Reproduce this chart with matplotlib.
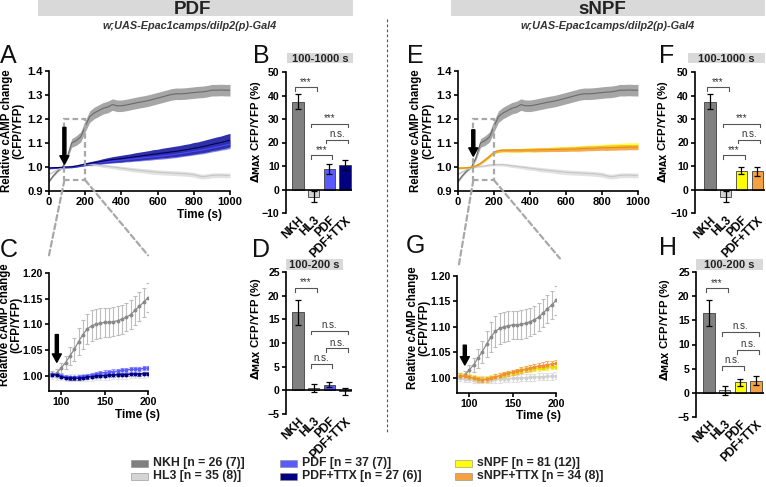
import numpy as np
import matplotlib
matplotlib.use("Agg")
import matplotlib.pyplot as plt
from matplotlib.patches import Rectangle, ConnectionPatch
from matplotlib.lines import Line2D

plt.rcParams["font.family"] = ["Liberation Sans", "DejaVu Sans"]
plt.rcParams["font.weight"] = "bold"
plt.rcParams["axes.linewidth"] = 1.2

W, H = 766, 487

# ---- long recordings (0-1000 s) ----
T_LONG = np.arange(0, 1001, 25)
NKH_LONG = [0.940, 0.965, 0.985, 1.000, 1.040, 1.100, 1.110, 1.125, 1.170, 1.210,
            1.225, 1.235, 1.245, 1.250, 1.260, 1.255, 1.255, 1.258, 1.262, 1.266,
            1.270, 1.273, 1.277, 1.282, 1.287, 1.292, 1.297, 1.302, 1.305, 1.305,
            1.306, 1.308, 1.310, 1.312, 1.313, 1.316, 1.320, 1.320, 1.321, 1.320, 1.320]
NKH_LONG_SEM = [0.004, 0.004, 0.004, 0.005, 0.010, 0.018, 0.020, 0.021, 0.023, 0.024,
                0.024, 0.024, 0.024, 0.024, 0.024, 0.024, 0.024, 0.024, 0.024, 0.024,
                0.024, 0.024, 0.024, 0.024, 0.024, 0.024, 0.024, 0.024, 0.024, 0.024,
                0.024, 0.024, 0.024, 0.024, 0.024, 0.024, 0.024, 0.024, 0.024, 0.024, 0.024]
HL3_LONG = [0.970, 0.980, 0.990, 0.997, 1.000, 1.003, 1.005, 1.008, 1.010, 1.010,
            1.010, 1.008, 1.005, 1.003, 1.000, 0.998, 0.995, 0.993, 0.990, 0.988,
            0.986, 0.984, 0.982, 0.980, 0.978, 0.977, 0.976, 0.975, 0.974, 0.973,
            0.972, 0.970, 0.968, 0.963, 0.960, 0.962, 0.965, 0.966, 0.966, 0.965, 0.965]
HL3_LONG_SEM = [0.003, 0.003, 0.003, 0.003, 0.003, 0.004, 0.004, 0.005, 0.005, 0.006,
                0.006, 0.006, 0.007, 0.007, 0.007, 0.008, 0.008, 0.008, 0.009, 0.009,
                0.009, 0.009, 0.010, 0.010, 0.010, 0.010, 0.010, 0.010, 0.010, 0.010,
                0.010, 0.010, 0.010, 0.010, 0.010, 0.010, 0.010, 0.010, 0.010, 0.010, 0.010]
PDF_LONG = [0.995, 0.996, 0.997, 0.998, 0.999, 1.000, 1.003, 1.006, 1.010, 1.013,
            1.016, 1.018, 1.020, 1.022, 1.024, 1.026, 1.028, 1.030, 1.032, 1.034,
            1.036, 1.038, 1.040, 1.042, 1.044, 1.046, 1.048, 1.050, 1.053, 1.056,
            1.059, 1.062, 1.065, 1.068, 1.071, 1.075, 1.079, 1.083, 1.087, 1.091, 1.095]
PDF_LONG_SEM = [0.003, 0.003, 0.003, 0.003, 0.003, 0.003, 0.004, 0.004, 0.005, 0.005,
                0.006, 0.006, 0.007, 0.007, 0.008, 0.008, 0.009, 0.009, 0.010, 0.010,
                0.011, 0.011, 0.012, 0.012, 0.012, 0.013, 0.013, 0.013, 0.014, 0.014,
                0.014, 0.015, 0.015, 0.015, 0.016, 0.016, 0.016, 0.017, 0.017, 0.018, 0.018]
PDFTTX_LONG = [0.996, 0.997, 0.998, 0.999, 1.000, 1.001, 1.004, 1.008, 1.012, 1.015,
               1.018, 1.021, 1.025, 1.028, 1.031, 1.033, 1.035, 1.038, 1.040, 1.043,
               1.045, 1.048, 1.050, 1.053, 1.055, 1.058, 1.060, 1.063, 1.065, 1.068,
               1.071, 1.074, 1.078, 1.081, 1.085, 1.089, 1.094, 1.098, 1.102, 1.107, 1.112]
PDFTTX_LONG_SEM = [0.003, 0.003, 0.003, 0.003, 0.003, 0.004, 0.004, 0.005, 0.006, 0.007,
                   0.008, 0.009, 0.010, 0.011, 0.012, 0.013, 0.014, 0.014, 0.015, 0.016,
                   0.017, 0.017, 0.018, 0.019, 0.019, 0.020, 0.021, 0.021, 0.022, 0.022,
                   0.023, 0.023, 0.024, 0.024, 0.025, 0.026, 0.026, 0.027, 0.027, 0.028, 0.028]
SNPF_LONG = [0.996, 0.997, 0.998, 1.000, 1.006, 1.016, 1.030, 1.045, 1.060, 1.067,
             1.069, 1.069, 1.069, 1.070, 1.070, 1.071, 1.071, 1.072, 1.072, 1.073,
             1.073, 1.074, 1.075, 1.075, 1.076, 1.077, 1.077, 1.078, 1.079, 1.080,
             1.081, 1.082, 1.083, 1.084, 1.085, 1.086, 1.087, 1.088, 1.089, 1.089, 1.090]
SNPF_LONG_SEM = [0.003, 0.003, 0.003, 0.003, 0.004, 0.005, 0.006, 0.006, 0.007, 0.007,
                 0.007, 0.007, 0.008, 0.008, 0.008, 0.008, 0.009, 0.009, 0.009, 0.009,
                 0.009, 0.010, 0.010, 0.010, 0.010, 0.010, 0.011, 0.011, 0.011, 0.011,
                 0.011, 0.011, 0.012, 0.012, 0.012, 0.012, 0.012, 0.012, 0.012, 0.012, 0.012]
SNPFTTX_LONG = [0.995, 0.996, 0.997, 0.999, 1.005, 1.015, 1.030, 1.045, 1.062, 1.068,
                1.070, 1.070, 1.070, 1.070, 1.070, 1.071, 1.071, 1.071, 1.072, 1.072,
                1.072, 1.073, 1.073, 1.074, 1.074, 1.075, 1.075, 1.076, 1.077, 1.078,
                1.078, 1.079, 1.080, 1.080, 1.081, 1.081, 1.082, 1.082, 1.083, 1.083, 1.083]
SNPFTTX_LONG_SEM = [0.003, 0.003, 0.003, 0.003, 0.004, 0.004, 0.005, 0.005, 0.006, 0.006,
                    0.006, 0.006, 0.007, 0.007, 0.007, 0.007, 0.007, 0.008, 0.008, 0.008,
                    0.008, 0.008, 0.009, 0.009, 0.009, 0.009, 0.009, 0.010, 0.010, 0.010,
                    0.010, 0.010, 0.010, 0.011, 0.011, 0.011, 0.011, 0.011, 0.011, 0.011, 0.011]

# ---- zoomed recordings (90-200 s) ----
T_ZOOM = np.arange(90, 201, 5)
NKH_Z = [1.003, 1.005, 1.015, 1.025, 1.038, 1.051, 1.066, 1.080, 1.091, 1.097, 1.100, 1.102,
         1.104, 1.104, 1.105, 1.107, 1.110, 1.114, 1.119, 1.127, 1.135, 1.143, 1.152]
NKH_Z_SEM = [0.006, 0.008, 0.010, 0.013, 0.018, 0.022, 0.026, 0.029, 0.030, 0.030, 0.029, 0.029,
             0.028, 0.028, 0.028, 0.028, 0.028, 0.028, 0.028, 0.028, 0.028, 0.028, 0.028]
HL3_Z = [0.999, 0.998, 0.997, 0.996, 0.996, 0.996, 0.996, 0.996, 0.997, 0.997, 0.998, 0.998,
         0.999, 0.999, 1.000, 1.000, 1.001, 1.001, 1.002, 1.002, 1.003, 1.003, 1.004]
HL3_Z_SEM = [0.006, 0.006, 0.006, 0.006, 0.007, 0.007, 0.007, 0.007, 0.007, 0.007, 0.007, 0.007,
             0.007, 0.007, 0.007, 0.007, 0.007, 0.007, 0.007, 0.007, 0.007, 0.007, 0.007]
PDF_Z = [1.003, 1.002, 1.000, 0.998, 0.997, 0.997, 0.998, 0.999, 1.000, 1.002, 1.003, 1.005,
         1.006, 1.007, 1.008, 1.009, 1.010, 1.011, 1.012, 1.012, 1.013, 1.014, 1.015]
PDF_Z_SEM = [0.003, 0.003, 0.003, 0.003, 0.003, 0.003, 0.003, 0.003, 0.003, 0.004, 0.004, 0.004,
             0.004, 0.004, 0.004, 0.004, 0.004, 0.004, 0.004, 0.004, 0.004, 0.004, 0.004]
PDFTTX_Z = [1.002, 1.001, 0.998, 0.996, 0.995, 0.995, 0.995, 0.996, 0.997, 0.998, 0.999, 1.000,
            1.000, 1.001, 1.001, 1.002, 1.002, 1.002, 1.003, 1.003, 1.003, 1.004, 1.004]
PDFTTX_Z_SEM = [0.003, 0.003, 0.003, 0.003, 0.003, 0.003, 0.003, 0.003, 0.003, 0.003, 0.003, 0.003,
                0.003, 0.003, 0.003, 0.003, 0.003, 0.003, 0.003, 0.003, 0.003, 0.003, 0.003]
SNPF_Z = [1.005, 1.004, 1.002, 1.000, 0.998, 0.997, 0.998, 1.000, 1.002, 1.004, 1.006, 1.008,
          1.010, 1.012, 1.014, 1.016, 1.017, 1.018, 1.019, 1.020, 1.021, 1.022, 1.022]
SNPF_Z_SEM = [0.005, 0.005, 0.005, 0.005, 0.005, 0.005, 0.005, 0.005, 0.005, 0.005, 0.005, 0.005,
              0.005, 0.005, 0.005, 0.005, 0.005, 0.005, 0.005, 0.005, 0.005, 0.005, 0.005]
SNPFTTX_Z = [1.004, 1.003, 1.001, 0.999, 0.997, 0.996, 0.997, 0.999, 1.002, 1.004, 1.007, 1.009,
             1.011, 1.013, 1.015, 1.017, 1.019, 1.021, 1.023, 1.024, 1.026, 1.027, 1.028]
SNPFTTX_Z_SEM = [0.005, 0.005, 0.005, 0.005, 0.005, 0.005, 0.005, 0.005, 0.005, 0.005, 0.005, 0.005,
                 0.005, 0.005, 0.006, 0.006, 0.006, 0.006, 0.006, 0.006, 0.006, 0.006, 0.006]

# ---- bar charts ----
BAR_LABELS = ["NKH", "HL3", "PDF", "PDF+TTX"]
B_MEAN = [37.4, -3.0, 8.8, 10.4]
B_SEM = [3.2, 2.5, 2.0, 2.1]
D_MEAN = [16.5, 0.5, 1.2, -0.2]
D_SEM = [2.6, 0.9, 0.6, 0.7]
F_MEAN = [37.4, -3.0, 8.0, 7.8]
F_SEM = [3.2, 2.5, 1.5, 1.9]
H_MEAN = [16.5, 0.5, 2.2, 2.5]
H_SEM = [2.7, 0.9, 0.7, 0.9]
SIG_LONG = [(0, 1, 43.5, "***"), (1, 3, 28.0, "***"), (2, 3, 21.2, "n.s."), (1, 2, 14.5, "***")]
SIG_SHORT = [(0, 1, 21.6, "***"), (1, 3, 12.6, "n.s."), (2, 3, 8.9, "n.s."), (1, 2, 5.6, "n.s.")]

LEGEND_LABELS = ["NKH [n = 26 (7)]", "HL3 [n = 35 (8)]", "PDF [n = 37 (7)]",
                 "PDF+TTX [n = 27 (6)]", "sNPF [n = 81 (12)]", "sNPF+TTX [n = 34 (8)]"]

C_NKH, C_HL3 = "#808080", "#d4d4d4"
C_PDF, C_PDFTTX = "#5a5aff", "#000080"
C_SNPF, C_SNPFTTX = "#ffff00", "#f5a142"
LEGEND_COLORS = [C_NKH, C_HL3, C_PDF, C_PDFTTX, C_SNPF, C_SNPFTTX]

fig = plt.figure(figsize=(W / 100, H / 100), dpi=100)


def add_ax(left, top, right, bottom):
    return fig.add_axes([left / W, 1 - bottom / H, (right - left) / W, (bottom - top) / H])


def style(ax, size=8):
    ax.spines["top"].set_visible(False)
    ax.spines["right"].set_visible(False)
    ax.tick_params(direction="out", length=3, width=1.2, labelsize=size, pad=1.5)


def trace_long(ax, series, show_xlabel, arrow_y):
    for m, s, band, line in series:
        m = np.asarray(m)
        s = np.asarray(s)
        ax.fill_between(T_LONG, m - s, m + s, color=band, lw=0)
        ax.plot(T_LONG, m, color=line, lw=0.8)
    ax.set_xlim(0, 1000)
    ax.set_ylim(0.9, 1.4)
    ax.set_xticks([0, 200, 400, 600, 800, 1000])
    ax.set_yticks([0.9, 1.0, 1.1, 1.2, 1.3, 1.4])
    ax.set_yticklabels(["0.9", "1.0", "1.1", "1.2", "1.3", "1.4"])
    style(ax)
    ax.add_patch(Rectangle((85, 0.945), 115, 0.255, fill=False, ec="#a8a8a8",
                           lw=1.6, ls=(0, (2.5, 1.5)), clip_on=False, zorder=5))
    ax.annotate("", xy=(85, arrow_y[1]), xytext=(85, arrow_y[0]),
                arrowprops=dict(facecolor="k", edgecolor="k", width=2.2,
                                headwidth=6.5, headlength=6, shrink=0), zorder=6)
    ax.text(-0.2, 0.5, "Relative cAMP change\n(CFP/YFP)", transform=ax.transAxes,
            rotation=90, ha="center", va="center", fontsize=8.3, linespacing=1.0)
    if show_xlabel:
        ax.text(0.83, -0.2, "Time (s)", transform=ax.transAxes, ha="center",
                va="center", fontsize=8.5)


def trace_zoom(ax, series, xlab_x, arrow_y):
    for m, s, line, ecol in series:
        ax.errorbar(T_ZOOM, m, yerr=s, color=line, ecolor=ecol, marker="o", ms=1.8,
                    lw=0.9, elinewidth=0.8, capsize=1.6, capthick=0.8)
    ax.set_xlim(86, 200)
    ax.set_ylim(0.97, 1.20)
    ax.set_xticks([100, 150, 200])
    ax.set_yticks([1.00, 1.05, 1.10, 1.15, 1.20])
    ax.set_yticklabels(["1.00", "1.05", "1.10", "1.15", "1.20"])
    style(ax, 7.6)
    ax.annotate("", xy=(95, arrow_y[1]), xytext=(95, arrow_y[0]),
                arrowprops=dict(facecolor="k", edgecolor="k", width=2.2,
                                headwidth=6.5, headlength=6, shrink=0), zorder=6)
    ax.text(-0.39, 0.56, "Relative cAMP change\n(CFP/YFP)", transform=ax.transAxes,
            rotation=90, ha="center", va="center", fontsize=8.3, linespacing=0.95)
    ax.text(xlab_x, -0.2, "Time (s)", transform=ax.transAxes, ha="center",
            va="center", fontsize=8.5)


def bar_panel(ax, means, sems, colors, sig, ylim, yticks, drop, xlim, ylab_y):
    x = np.arange(len(means))
    ax.bar(x, means, width=0.72, color=colors, edgecolor="#404040", lw=0.6, zorder=2)
    ax.errorbar(x, means, yerr=sems, fmt="none", ecolor="k", elinewidth=0.9,
                capsize=2.5, capthick=0.9, zorder=3)
    ax.axhline(0, color="k", lw=1.2, zorder=4)
    ax.set_xlim(*xlim)
    ax.set_ylim(*ylim)
    ax.set_yticks(yticks)
    style(ax, 7.6)
    ax.spines["bottom"].set_visible(False)
    ax.set_xticks(x)
    ax.set_xticklabels(BAR_LABELS, rotation=45, ha="right", rotation_mode="anchor",
                       fontsize=8.5)
    ax.tick_params(axis="x", length=0, pad=1)
    for i, j, y, txt in sig:
        ax.plot([i - 0.2, i - 0.2, j + 0.2, j + 0.2], [y - drop, y, y, y - drop],
                color="#555555", lw=0.8, clip_on=False)
        ax.text((i + j) / 2, y + drop * 0.15, txt, ha="center", va="bottom",
                fontsize=7, fontweight="normal", color="#333333")
    ax.text(-0.45, ylab_y, r"$\Delta_{\mathrm{MAX}}$ CFP/YFP (%)", transform=ax.transAxes,
            rotation=90, ha="center", va="center", fontsize=8.2)


# ---- panels ----
axA = add_ax(49, 71, 230, 191)
trace_long(axA, [(NKH_LONG, NKH_LONG_SEM, "#a6a6a6", "#6a6a6a"),
                 (HL3_LONG, HL3_LONG_SEM, "#e2e2e2", "#c6c6c6"),
                 (PDF_LONG, PDF_LONG_SEM, "#8080f8", "#4a4aff"),
                 (PDFTTX_LONG, PDFTTX_LONG_SEM, "#3030a8", "#00005a")],
           True, (1.165, 1.012))

axE = add_ax(458, 71, 638, 191)
trace_long(axE, [(NKH_LONG, NKH_LONG_SEM, "#a6a6a6", "#6a6a6a"),
                 (HL3_LONG, HL3_LONG_SEM, "#e2e2e2", "#c6c6c6"),
                 (SNPF_LONG, SNPF_LONG_SEM, "#ffff50", "#e8d800"),
                 (SNPFTTX_LONG, SNPFTTX_LONG_SEM, "#f6aa50", "#e88a20")],
           False, (1.155, 1.045))

axC = add_ax(49, 273, 148, 391)
trace_zoom(axC, [(HL3_Z, HL3_Z_SEM, "#d8d8d8", "#e4e4e4"),
                 (NKH_Z, NKH_Z_SEM, "#8a8a8a", "#bdbdbd"),
                 (PDF_Z, PDF_Z_SEM, "#5a5aff", "#9a9aff"),
                 (PDFTTX_Z, PDFTTX_Z_SEM, "#000080", "#3a3a9a")],
           0.89, (1.08, 1.026))

axG = add_ax(457, 276, 556, 393)
trace_zoom(axG, [(HL3_Z, HL3_Z_SEM, "#d0d0d0", "#dedede"),
                 (NKH_Z, NKH_Z_SEM, "#8a8a8a", "#bdbdbd"),
                 (SNPF_Z, SNPF_Z_SEM, "#e8e000", "#f4f060"),
                 (SNPFTTX_Z, SNPFTTX_Z_SEM, "#f09030", "#f5b060")],
           0.82, (1.064, 1.025))

axB = add_ax(286, 72, 352, 213)
bar_panel(axB, B_MEAN, B_SEM, [C_NKH, C_HL3, C_PDF, C_PDFTTX], SIG_LONG,
          (-10, 50), [-10, 0, 10, 20, 30, 40, 50], 1.6, (-0.77, 3.45), 0.575)
axD = add_ax(286, 272, 352, 414)
bar_panel(axD, D_MEAN, D_SEM, [C_NKH, C_HL3, C_PDF, C_PDFTTX], SIG_SHORT,
          (-5, 25), [-5, 0, 5, 10, 15, 20, 25], 0.8, (-0.77, 3.45), 0.6)
axF = add_ax(695, 72, 765, 213)
bar_panel(axF, F_MEAN, F_SEM, [C_NKH, C_HL3, C_SNPF, C_SNPFTTX], SIG_LONG,
          (-10, 50), [-10, 0, 10, 20, 30, 40, 50], 1.6, (-0.96, 3.5), 0.575)
axH = add_ax(696, 272, 764, 417)
bar_panel(axH, H_MEAN, H_SEM, [C_NKH, C_HL3, C_SNPF, C_SNPFTTX], SIG_SHORT,
          (-5, 25), [-5, 0, 5, 10, 15, 20, 25], 0.8, (-0.83, 3.5), 0.6)

# zoom connectors
for src, dst, pts in [(axA, axC, [((85, 0.945), (0.0, 1.15)), ((200, 0.945), (1.0, 1.15))]),
                      (axE, axG, [((85, 0.945), (0.02, 1.10)), ((200, 0.945), (1.04, 1.15))])]:
    for a, b in pts:
        con = ConnectionPatch(xyA=a, coordsA=src.transData, xyB=b, coordsB=dst.transAxes,
                              color="#a8a8a8", lw=1.6, ls=(0, (2.5, 1.5)))
        fig.add_artist(con)


def fx(px):
    return px / W


def fy(py):
    return 1 - py / H


# header bars and titles
for x0, x1, title, cx in [(38, 353, "PDF", 192), (451, 765, "sNPF", 602)]:
    fig.add_artist(Rectangle((fx(x0), fy(16)), (x1 - x0) / W, 16 / H,
                             transform=fig.transFigure, color="#d9d9d9", lw=0))
    fig.text(fx(cx), fy(9), title, ha="center", va="center", fontsize=13.5, color="#222222")
    fig.text(fx(cx - 2 if title == "PDF" else cx + 6), fy(26), "w;UAS-Epac1camps/dilp2(p)-Gal4",
             ha="center", va="center", fontsize=7.8, style="italic", color="#333333")

# sub-range boxes
for x0, x1, y0, y1, txt in [(287, 353, 53, 63, "100-1000 s"), (286, 343, 259, 270, "100-200 s"),
                            (688, 765, 53, 63, "100-1000 s"), (696, 763, 259, 270, "100-200 s")]:
    fig.add_artist(Rectangle((fx(x0), fy(y1)), (x1 - x0) / W, (y1 - y0) / H,
                             transform=fig.transFigure, color="#d9d9d9", lw=0))
    fig.text(fx((x0 + x1) / 2), fy((y0 + y1) / 2 + 0.5), txt, ha="center", va="center",
             fontsize=8, color="#222222")

# panel letters
for letter, px, py in [("A", 0, 63), ("B", 253, 63), ("C", 0, 257), ("D", 252, 257),
                       ("E", 407, 63), ("F", 659, 63), ("G", 406, 253), ("H", 659, 255)]:
    fig.text(fx(px), fy(py), letter, ha="left", va="baseline", fontsize=18,
             fontweight="normal", color="#111111")

# divider
fig.add_artist(Line2D([fx(387), fx(387)], [fy(19), fy(432)], transform=fig.transFigure,
                      color="#555555", lw=0.8, ls=(0, (2.5, 2))))

# legend
patch_x = [131, 131, 280, 280, 455, 455]
row_y = [463, 476, 463, 476, 463, 476]
for lab, col, px, py in zip(LEGEND_LABELS, LEGEND_COLORS, patch_x, row_y):
    fig.add_artist(Rectangle((fx(px), fy(py + 3.5)), 17 / W, 7 / H, transform=fig.transFigure,
                             fc=col, ec="#888888", lw=0.4))
    fig.text(fx(px + 22), fy(py), lab, ha="left", va="center", fontsize=8.8, color="#222222")

fig.savefig("out.png", dpi=100)
